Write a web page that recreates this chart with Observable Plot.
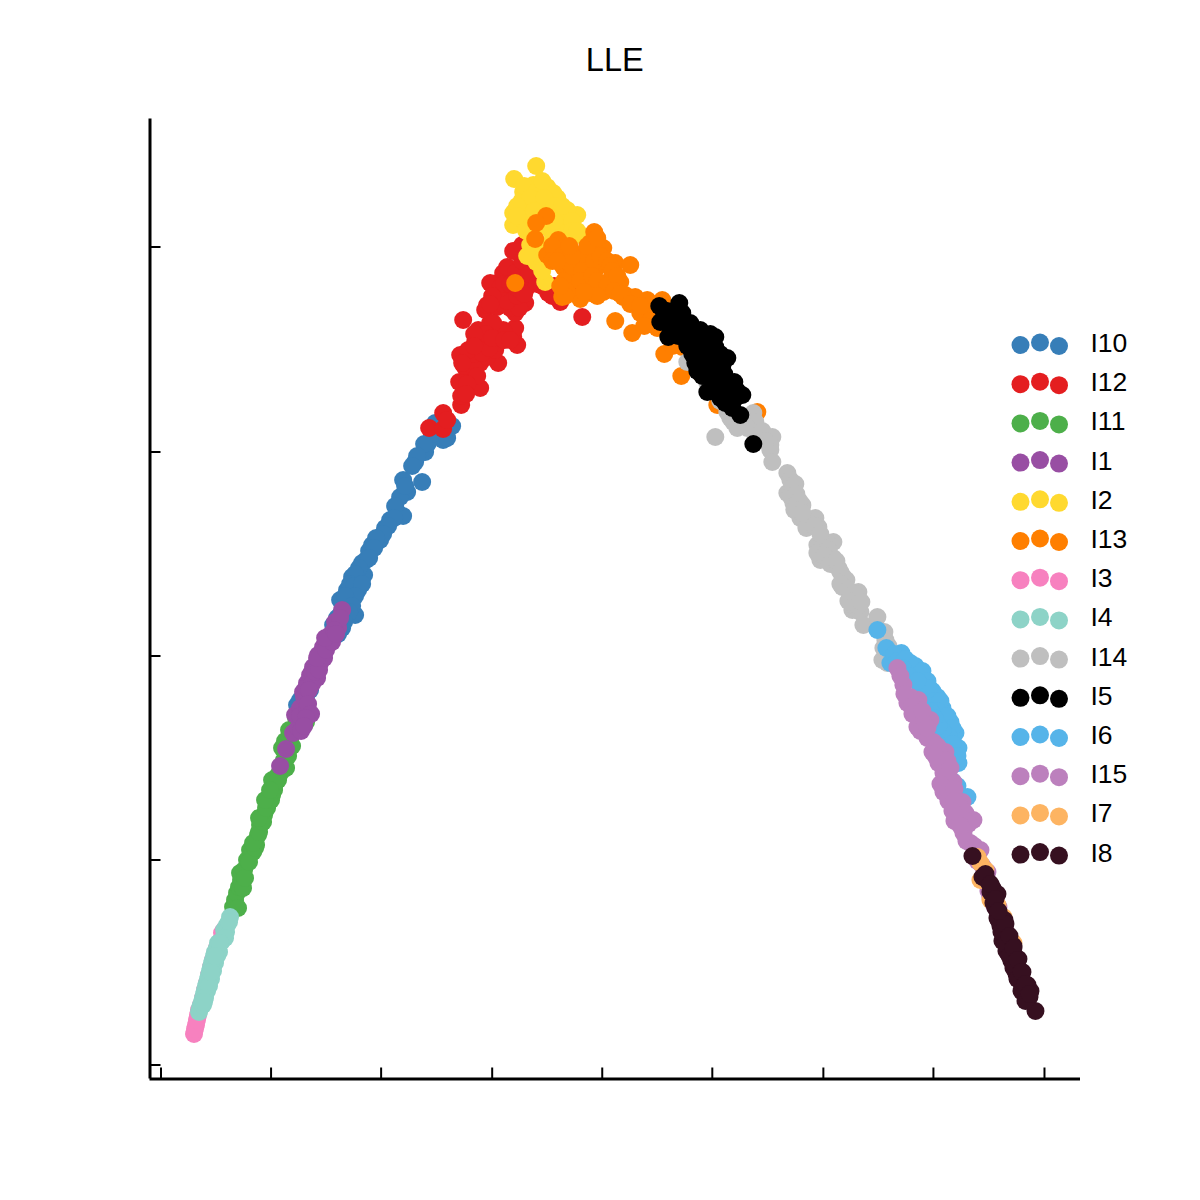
<!DOCTYPE html>
<html>
<head>
<meta charset="utf-8">
<style>html,body{margin:0;padding:0;background:#fff}</style>
<script src="https://cdn.jsdelivr.net/npm/d3@7"></script>
<script src="https://cdn.jsdelivr.net/npm/@observablehq/plot@0.6"></script>
</head>
<body>
<div id="chart"></div>
<script>
const names = ["I10","I12","I11","I1","I2","I13","I3","I4","I14","I5","I6","I15","I7","I8"];
const palette = ["#377eb8","#e41e20","#4daf4a","#984ea3","#ffd92f","#ff7f00","#f781bf","#8dd3c7","#bfbfbf","#000000","#56b4e9","#bc80bd","#fdb462","#361020"];
const xTicks = [-441,-331,-221,-110,0,110,221,331,442];
const yTicks = [-409,-204,0,204,409];

const I10 = [[-150,230],[-167,233],[-159,216],[-174,213],[-177,204],[-187,194],[-180,174],[-199,176],[-195,164],[-202,159],[-205,144],[-199,140],[-212,136],[-217,128],[-222,116],[-230,111],[-236,96],[-240,93],[-238,81],[-250,79],[-244,66],[-255,66],[-247,41],[-257,54],[-262,41],[-269,31],[-260,28],[-277,11],[-287,-14],[-292,-34],[-302,-44],[-305,-49],[-284,-9],[-262,56],[-162,224],[-170,222],[-155,218],[-178,212],[-185,200],[-190,190],[-197,170],[-207,150],[-208,138],[-214,130],[-219,122],[-226,118],[-233,105],[-228,108],[-233,98],[-243,88],[-247,82],[-252,72],[-248,70],[-240,72],[-247,60],[-257,60],[-250,50],[-253,44],[-265,38],[-258,34],[-264,22],[-272,20],[-266,25],[-282,0],[-290,-24],[-296,-40]];
const I12 = [[-173,228],[-159,227],[-159,243],[-155,236],[-141,251],[-141,260],[-143,274],[-122,268],[-134,281],[-142,301],[-139,336],[-104,293],[-122,293],[-132,296],[-115,299],[-127,314],[-119,313],[-107,306],[-105,313],[-85,311],[-89,319],[-87,328],[-99,326],[-124,326],[-112,333],[-117,346],[-115,351],[-105,349],[-87,343],[-77,353],[-89,353],[-20,339],[-105,373],[-99,383],[-75,369],[-69,383],[-92,359],[-79,353],[-109,333],[-95,389],[-42,354],[-54,363],[-20,369],[-89,405],[-80,411],[-72,393],[-112,373],[-102,361],[-138,290],[-128,288],[-128,302],[-120,303],[-134,306],[-113,308],[-122,320],[-116,322],[-110,318],[-128,322],[-98,316],[-92,316],[-100,352],[-92,348],[-83,348],[-95,355],[-85,360],[-102,368],[-98,372],[-92,372],[-85,368],[-78,362],[-78,380],[-86,384],[-80,395],[-73,382],[-65,372],[-50,360],[-48,370],[-60,370],[-110,360],[-112,352],[-125,280],[-135,272],[-136,262],[-140,293],[-128,310]];
const I11 = [[-369,-251],[-367,-244],[-365,-237],[-363,-231],[-361,-224],[-362,-217],[-358,-214],[-355,-204],[-352,-194],[-349,-196],[-346,-189],[-344,-179],[-342,-169],[-340,-164],[-338,-159],[-335,-152],[-333,-144],[-330,-139],[-328,-131],[-330,-124],[-324,-119],[-319,-112],[-321,-116],[-318,-104],[-315,-96],[-317,-85],[-312,-82],[-306,-72],[-302,-62],[-297,-52],[-364,-252],[-359,-232],[-357,-222],[-353,-206],[-347,-192],[-349,-187],[-343,-176],[-339,-166],[-343,-162],[-336,-152],[-331,-144],[-337,-144],[-328,-134],[-324,-124],[-332,-134],[-316,-112],[-314,-100],[-320,-92],[-310,-90],[-313,-74],[-306,-62],[-300,-60],[-296,-66]];
const I1 = [[-322,-110],[-316,-93],[-309,-77],[-300,-67],[-307,-59],[-299,-62],[-297,-44],[-299,-36],[-295,-27],[-292,-19],[-285,-22],[-289,-11],[-282,-7],[-284,1],[-279,9],[-275,16],[-272,21],[-264,28],[-267,34],[-260,46],[-262,38],[-304,-72],[-302,-52],[-298,-41],[-290,-16],[-280,4],[-296,-32],[-290,-28],[-302,-60],[-295,-52],[-293,-34],[-287,-16],[-283,-14],[-278,-2],[-285,-2],[-276,6],[-270,14],[-277,18],[-268,26],[-266,22],[-294,-48],[-291,-58],[-296,-62],[-301,-75],[-298,-70]];
const I2 = [[-66,490],[-88,477],[-69,471],[-55,469],[-79,464],[-45,458],[-80,456],[-89,443],[-89,431],[-25,441],[-35,446],[-65,456],[-72,446],[-55,449],[-79,436],[-40,429],[-22,421],[-57,374],[-72,411],[-66,394],[-50,423],[-34,418],[-62,429],[-49,463],[-78,470],[-65,465],[-60,475],[-72,458],[-58,458],[-48,450],[-85,450],[-85,440],[-76,425],[-60,440],[-68,445],[-42,440],[-40,450],[-30,435],[-30,425],[-48,435],[-70,420],[-55,410],[-62,402],[-75,400],[-50,415],[-60,385],[-25,425]];
const I13 = [[-56,440],[-66,433],[-67,417],[-87,373],[-44,416],[-55,401],[-45,403],[-39,389],[-32,379],[-40,359],[-22,357],[-29,403],[-8,424],[-12,413],[1,408],[-19,399],[13,393],[28,391],[-5,389],[18,374],[1,364],[-12,363],[8,376],[-15,373],[23,361],[33,359],[45,356],[38,343],[13,335],[30,323],[62,302],[79,280],[55,328],[33,358],[60,356],[80,309],[98,283],[115,251],[155,244],[21,359],[-50,410],[-40,400],[-50,395],[-35,395],[-38,375],[-35,365],[-30,390],[-20,385],[-22,375],[-8,395],[-5,410],[-10,380],[-2,400],[5,395],[8,390],[10,385],[-5,375],[5,370],[15,380],[-5,360],[12,365],[18,362],[-30,400],[-15,410],[-5,418],[-37,360],[-42,370],[40,350],[50,345],[48,335],[42,330],[50,352],[-45,395],[-33,410],[-18,364],[28,352],[38,350],[70,310],[88,295]];
const I3 = [[-408,-378],[-406,-369],[-404,-359],[-401,-349],[-397,-334],[-393,-319],[-389,-304],[-385,-292],[-381,-284],[-378,-274],[-399,-342],[-395,-327],[-391,-311],[-387,-298],[-383,-288],[-380,-277],[-407,-373],[-405,-364],[-403,-354]];
const I4 = [[-403,-356],[-401,-349],[-399,-342],[-397,-334],[-395,-327],[-393,-319],[-391,-311],[-389,-304],[-387,-296],[-384,-287],[-378,-281],[-378,-274],[-375,-269],[-372,-261],[-402,-352],[-400,-346],[-398,-338],[-396,-330],[-394,-323],[-392,-315],[-390,-307],[-388,-300],[-385,-292],[-380,-285],[-376,-276],[-373,-266],[-395,-335],[-391,-323],[-387,-307],[-383,-296],[-377,-282],[-399,-349],[-393,-330],[-389,-315],[-385,-300],[-397,-342],[-391,-316],[-382,-287],[-398,-346],[-387,-300]];
const I14 = [[113,219],[131,234],[151,243],[153,234],[170,219],[168,206],[85,294],[105,273],[125,244],[156,219],[168,211],[170,194],[185,183],[190,169],[185,163],[191,153],[200,151],[198,138],[213,138],[205,134],[216,129],[215,111],[231,114],[225,113],[218,96],[231,98],[236,88],[241,79],[240,69],[256,64],[251,58],[250,46],[258,44],[261,31],[275,39],[283,16],[285,-7],[281,8],[118,255],[128,238],[140,240],[145,228],[135,228],[160,225],[163,215],[188,176],[193,172],[188,160],[194,162],[197,155],[192,146],[200,143],[204,128],[212,130],[218,122],[220,108],[215,103],[226,106],[222,100],[228,92],[234,95],[238,84],[244,76],[238,72],[246,66],[252,62],[246,55],[252,50],[256,50],[259,54],[282,24],[286,10],[287,2],[280,-4]];
const I5 = [[57,350],[77,353],[58,334],[66,319],[70,339],[80,343],[81,329],[90,316],[98,326],[88,333],[113,319],[113,309],[98,306],[125,298],[93,293],[105,293],[113,289],[108,278],[132,274],[105,264],[121,273],[140,261],[123,253],[133,258],[138,241],[130,248],[151,212],[115,263],[103,311],[62,342],[66,332],[72,330],[76,320],[82,322],[86,325],[92,322],[95,312],[90,302],[85,310],[100,315],[108,322],[105,300],[118,302],[120,290],[100,280],[95,285],[115,280],[122,282],[125,270],[112,270],[128,262],[118,258],[125,265],[135,265],[128,255],[73,345],[65,345],[75,330],[110,290],[98,298],[110,310],[100,290]];
const I6 = [[275,26],[284,8],[299,3],[288,-7],[308,-7],[321,-22],[311,-17],[335,-41],[340,-52],[318,-34],[325,-47],[353,-77],[348,-66],[356,-92],[356,-107],[365,-141],[341,-67],[292,2],[295,-5],[303,-3],[313,-10],[320,-15],[325,-25],[330,-35],[327,-32],[332,-45],[338,-45],[335,-55],[328,-55],[345,-60],[350,-72],[346,-80],[340,-75],[342,-90],[350,-88],[300,-12],[306,-20],[315,-25],[336,-70],[332,-62],[355,-100],[350,-125],[355,-130]];
const I15 = [[295,-12],[301,-29],[305,-47],[316,-44],[315,-61],[328,-64],[315,-71],[331,-86],[325,-82],[343,-96],[330,-96],[336,-107],[341,-117],[351,-126],[341,-136],[360,-146],[356,-161],[371,-164],[308,-41],[343,-127],[355,-154],[363,-157],[361,-177],[368,-187],[378,-194],[385,-216],[388,-241],[396,-251],[298,-20],[302,-38],[310,-50],[310,-58],[320,-55],[322,-68],[318,-75],[325,-72],[335,-90],[336,-95],[338,-100],[333,-100],[345,-105],[348,-112],[344,-120],[338,-128],[346,-135],[352,-133],[346,-145],[352,-145],[358,-152],[352,-165],[362,-164],[366,-168],[358,-170],[350,-155],[364,-185],[372,-190],[375,-205],[380,-210],[382,-225],[386,-235],[392,-250]];
const I7 = [[378,-207],[375,-201],[378,-224],[388,-244],[401,-261],[411,-287],[383,-214],[395,-249]];
const I8 = [[370,-200],[380,-221],[390,-232],[391,-247],[398,-261],[401,-274],[406,-287],[411,-301],[416,-314],[421,-327],[427,-341],[433,-355],[386,-226],[403,-281],[408,-294],[413,-307],[418,-321],[423,-334],[383,-218],[388,-236],[395,-238],[393,-252],[395,-262],[402,-264],[400,-285],[405,-278],[404,-295],[411,-290],[409,-305],[416,-303],[414,-318],[420,-316],[420,-331],[425,-329],[428,-335],[398,-270],[396,-264],[399,-276],[403,-288],[407,-300],[411,-312],[415,-323],[419,-335],[423,-345],[403,-268],[407,-280],[411,-292],[415,-304],[419,-316],[423,-328],[427,-338],[388,-228],[393,-243],[396,-255]];

const groups = [I10,I12,I11,I1,I2,I13,I3,I4,I14,I5,I6,I15,I7,I8];
const table = groups.flatMap((g,i)=>g.map(([x,y])=>({x,y,name:names[i]})));
const xMin=-452, xMax=478, yMin=-423, yMax=537;
const font = "'Liberation Sans', Arial, sans-serif";

const legendMarks = names.flatMap((n,i)=>{
  const base = 225.5 + i*39.2;
  return [
    Plot.dot([n],{frameAnchor:"top-left",dx:870.5,dy:base+0.5,r:9,fill:d=>d}),
    Plot.dot([n],{frameAnchor:"top-left",dx:890,dy:base-2,r:9,fill:d=>d}),
    Plot.dot([n],{frameAnchor:"top-left",dx:909,dy:base+1.5,r:9,fill:d=>d}),
    Plot.text([n],{frameAnchor:"top-left",dx:940.5,dy:base-1,text:d=>d,textAnchor:"start",lineAnchor:"middle",fontSize:26.5,fill:"#000"})
  ];
});

const chart = Plot.plot({
  width:1200,height:1200,
  marginLeft:149.5,marginRight:120,marginTop:118.5,marginBottom:121.5,
  style:{fontFamily:font,background:"#fff"},
  x:{domain:[xMin,xMax],axis:null},
  y:{domain:[yMin,yMax],axis:null},
  color:{domain:names,range:palette},
  marks:[
    Plot.dot(table,{x:"x",y:"y",fill:"name",r:9}),
    Plot.ruleX([xMin],{stroke:"#000",strokeWidth:3}),
    Plot.ruleY([yMin],{stroke:"#000",strokeWidth:3}),
    Plot.ruleX(xTicks,{x:d=>d,y1:yMin,y2:yMin+11,stroke:"#000",strokeWidth:2}),
    Plot.ruleY(yTicks,{y:d=>d,x1:xMin,x2:xMin+11,stroke:"#000",strokeWidth:2}),
    Plot.text(["LLE"],{frameAnchor:"top",dy:-58,dx:-0.5,text:d=>d,lineAnchor:"middle",fontSize:32.5,fill:"#000"}),
    ...legendMarks
  ]
});
document.getElementById("chart").appendChild(chart);
</script>
</body>
</html>
